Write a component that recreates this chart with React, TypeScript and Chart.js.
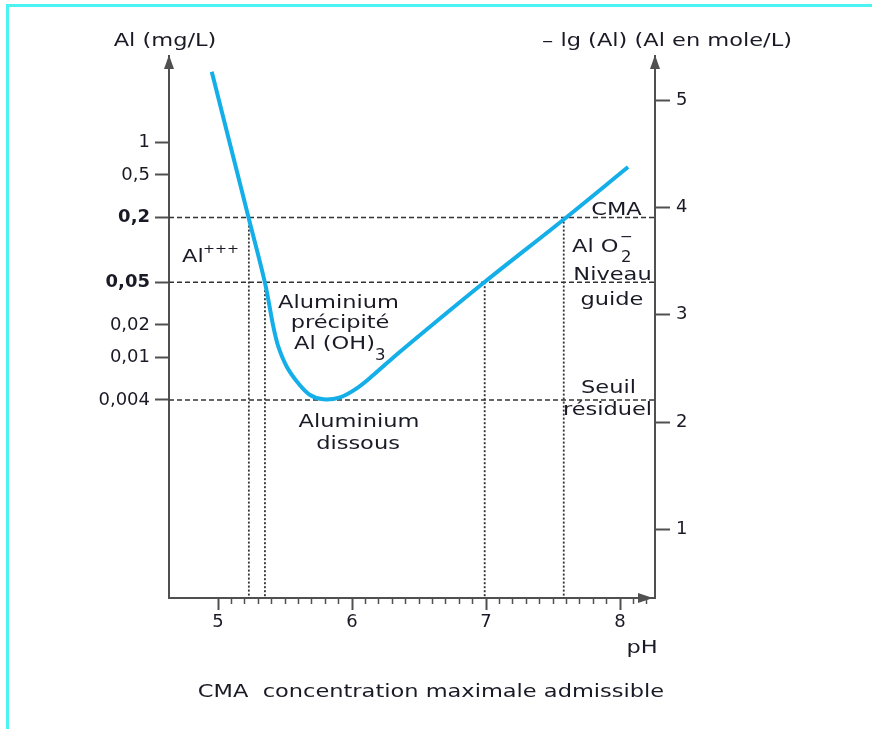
import React, { useEffect, useRef } from 'react';
import { Chart, registerables } from 'chart.js';

Chart.register(...registerables);

// ---- data (pH vs Al in mg/L) ----
const phValues = [4.953, 5.229, 5.351, 5.413, 5.45, 5.513, 5.599, 5.687, 5.786, 5.91, 6.035, 6.159, 6.358, 6.978, 7.575, 8.06];
const alValues = [4.58, 0.197, 0.0488, 0.0192, 0.01253, 0.00815, 0.00571, 0.00444, 0.00405, 0.00423, 0.00513, 0.00682, 0.01125, 0.0489, 0.19, 0.592];

// horizontal reference levels (mg/L)
const levelValues = [0.2, 0.05, 0.004];
// vertical reference pH values and the level they start from
const markerPh = [5.23, 5.35, 6.99, 7.58];
const markerTop = [0.2, 0.05, 0.05, 0.2];

// ticks
const leftTickValues = [1, 0.5, 0.2, 0.05, 0.02, 0.01, 0.004];
const leftTickLabels = ['1', '0,5', '0,2', '0,05', '0,02', '0,01', '0,004'];
const boldTickLabels = ['0,2', '0,05'];
const rightTickValues = [1, 2, 3, 4, 5];
const xTickLabels = [5, 6, 7, 8];

// axis ranges
const X_MIN = 4.634;
const X_MAX = 8.261;
const AL_MIN = 5.7e-5;
const AL_MAX = 6.41;
const LG_OFFSET = 4.605;

const FONT = '"DejaVu Sans"';
const TEXT_COLOR = '#1a1a26';
const AXIS_COLOR = '#505050';
const CURVE_COLOR = '#14afe8';
const LINE_COLOR = '#333';

type Label = { t: string; x: number; y: number; align?: CanvasTextAlign; size?: number; sx?: number };

const labels: Label[] = [
  { t: 'Al (mg/L)', x: 165, y: 46, align: 'center' },
  { t: '\u2013 lg (Al) (Al en mole/L)', x: 667, y: 46, align: 'center' },
  { t: 'pH', x: 642, y: 653, align: 'center' },
  { t: 'CMA  concentration maximale admissible', x: 431, y: 697, align: 'center' },
  { t: 'Al', x: 182, y: 262, align: 'left' },
  { t: '+++', x: 203, y: 253, align: 'left', size: 13, sx: 1.1 },
  { t: 'Aluminium', x: 338.5, y: 308, align: 'center' },
  { t: 'précipité', x: 340, y: 328, align: 'center' },
  { t: 'Al (OH)', x: 294, y: 349, align: 'left' },
  { t: '3', x: 375, y: 360, align: 'left', size: 15, sx: 1.1 },
  { t: 'Aluminium', x: 359, y: 427, align: 'center' },
  { t: 'dissous', x: 358, y: 449, align: 'center' },
  { t: 'CMA', x: 616.5, y: 215, align: 'center' },
  { t: 'Al O', x: 572, y: 252, align: 'left' },
  { t: '2', x: 621, y: 262, align: 'left', size: 15, sx: 1.1 },
  { t: '\u2212', x: 620, y: 241, align: 'left', size: 14, sx: 1.1 },
  { t: 'Niveau', x: 612.5, y: 280, align: 'center' },
  { t: 'guide', x: 612, y: 305, align: 'center' },
  { t: 'Seuil', x: 608.5, y: 393, align: 'center' },
  { t: 'résiduel', x: 607.5, y: 415, align: 'center' },
];

const overlayPlugin = {
  id: 'overlay',
  afterDraw(chart: any) {
    const { ctx, chartArea: a } = chart;
    ctx.save();
    ctx.fillStyle = AXIS_COLOR;
    // up arrows on the vertical axes
    for (const x of [a.left, a.right]) {
      ctx.beginPath();
      ctx.moveTo(x, a.top - 1);
      ctx.lineTo(x - 5, a.top + 13);
      ctx.lineTo(x + 5, a.top + 13);
      ctx.closePath();
      ctx.fill();
    }
    // right arrow on the x axis
    const tip = a.right - 2;
    ctx.beginPath();
    ctx.moveTo(tip, a.bottom);
    ctx.lineTo(tip - 15, a.bottom - 5);
    ctx.lineTo(tip - 15, a.bottom + 5);
    ctx.closePath();
    ctx.fill();

    // text
    ctx.fillStyle = TEXT_COLOR;
    ctx.textBaseline = 'alphabetic';
    for (const l of labels) {
      ctx.save();
      ctx.font = `${l.size ?? 18}px ${FONT}`;
      ctx.textAlign = l.align ?? 'center';
      ctx.translate(l.x, l.y);
      ctx.scale(l.sx ?? 1.25, 1);
      ctx.fillText(l.t, 0, 0);
      ctx.restore();
    }
    ctx.restore();
  },
};

const isMajor = (v: number) => Math.abs(v - Math.round(v)) < 1e-6;

export default function App() {
  const ref = useRef<HTMLCanvasElement | null>(null);

  useEffect(() => {
    if (!ref.current) return;
    const datasets: any[] = [
      {
        data: phValues.map((x, i) => ({ x, y: alValues[i] })),
        showLine: true,
        borderColor: CURVE_COLOR,
        borderWidth: 4,
        pointRadius: 0,
        tension: 0.35,
      },
      ...levelValues.map((lv) => ({
        data: [
          { x: X_MIN, y: lv },
          { x: X_MAX, y: lv },
        ],
        showLine: true,
        borderColor: LINE_COLOR,
        borderWidth: 1.5,
        borderDash: [5, 3],
        pointRadius: 0,
      })),
      ...markerPh.map((p, i) => ({
        data: [
          { x: p, y: markerTop[i] },
          { x: p, y: AL_MIN },
        ],
        showLine: true,
        borderColor: LINE_COLOR,
        borderWidth: 1.8,
        borderDash: [2, 2],
        pointRadius: 0,
      })),
    ];

    const chart = new Chart(ref.current, {
      type: 'scatter',
      data: { datasets },
      options: {
        animation: false,
        responsive: false,
        devicePixelRatio: 1,
        layout: { padding: { top: 56, left: 0, right: 0, bottom: 0 } },
        plugins: { legend: { display: false }, tooltip: { enabled: false }, title: { display: false } },
        scales: {
          x: {
            type: 'linear',
            position: 'bottom',
            min: X_MIN,
            max: X_MAX,
            border: { display: true, color: AXIS_COLOR, width: 2 },
            grid: {
              drawOnChartArea: false,
              drawTicks: true,
              tickLength: 12,
              tickColor: (c: any) => (c.tick && c.tick.value < 4.99 ? 'rgba(0,0,0,0)' : AXIS_COLOR),
              tickWidth: (c: any) => (c.tick && isMajor(c.tick.value) ? 2 : 1.5),
              tickBorderDash: (c: any) => (c.tick && isMajor(c.tick.value) ? [] : [5, 40]),
            } as any,
            ticks: {
              stepSize: 0.1,
              autoSkip: false,
              includeBounds: false,
              maxRotation: 0,
              padding: 2,
              color: TEXT_COLOR,
              font: { family: FONT, size: 18 },
              callback: (v: any) => {
                const n = Number(v);
                return isMajor(n) && xTickLabels.includes(Math.round(n)) ? String(Math.round(n)) : '';
              },
            } as any,
            afterFit: (s: any) => {
              s.height = 131;
            },
          },
          y: {
            type: 'logarithmic',
            position: 'left',
            min: AL_MIN,
            max: AL_MAX,
            border: { display: true, color: AXIS_COLOR, width: 2 },
            grid: { drawOnChartArea: false, drawTicks: true, tickLength: 14, tickColor: AXIS_COLOR, tickWidth: 2 },
            afterBuildTicks: (s: any) => {
              s.ticks = leftTickValues.map((v) => ({ value: v }));
            },
            ticks: {
              autoSkip: false,
              padding: 5,
              color: TEXT_COLOR,
              font: (c: any) => ({
                family: FONT,
                size: 18,
                weight: boldTickLabels.includes(leftTickLabels[c.index]) ? 'bold' : 'normal',
              }),
              callback: (_v: any, i: number) => leftTickLabels[i] ?? '',
            } as any,
            afterFit: (s: any) => {
              s.width = 169;
            },
          },
          yR: {
            type: 'linear',
            position: 'right',
            min: Math.log10(AL_MIN) + LG_OFFSET,
            max: Math.log10(AL_MAX) + LG_OFFSET,
            border: { display: true, color: AXIS_COLOR, width: 2 },
            grid: { drawOnChartArea: false, drawTicks: true, tickLength: 15, tickColor: AXIS_COLOR, tickWidth: 2 },
            afterBuildTicks: (s: any) => {
              s.ticks = rightTickValues.map((v) => ({ value: v }));
            },
            ticks: {
              autoSkip: false,
              padding: 6,
              color: TEXT_COLOR,
              font: { family: FONT, size: 18 },
              callback: (v: any) => String(v),
            } as any,
            afterFit: (s: any) => {
              s.width = 217;
            },
          },
        },
      } as any,
      plugins: [overlayPlugin],
    });
    return () => chart.destroy();
  }, []);

  return (
    <div style={{ position: 'absolute', left: 0, top: 0, width: 872, height: 729, background: '#fff' }}>
      <div
        style={{
          position: 'absolute',
          left: 6,
          top: 4,
          right: 0,
          bottom: 0,
          borderLeft: '3px solid #4df2f2',
          borderTop: '3px solid #4df2f2',
        }}
      />
      <canvas ref={ref} width={872} height={729} style={{ position: 'absolute', left: 0, top: 0 }} />
    </div>
  );
}
